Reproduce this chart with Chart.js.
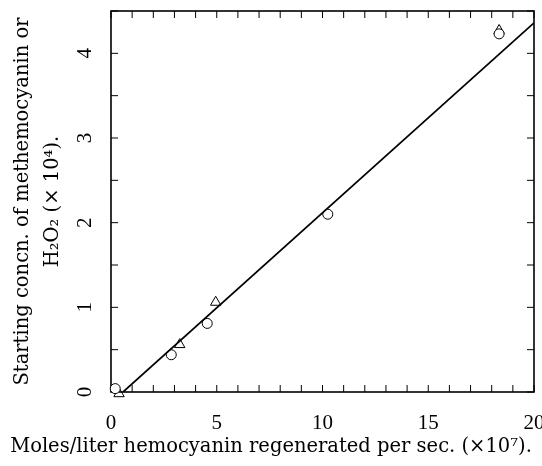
<!DOCTYPE html>
<html>
<head>
<meta charset="utf-8">
<script src="https://cdn.jsdelivr.net/npm/chart.js@4.4.1/dist/chart.umd.min.js"></script>
<style>
  html, body { margin: 0; padding: 0; background: #fff; }
  #wrap { width: 542px; height: 466px; }
</style>
</head>
<body>
<div id="wrap"><canvas id="chart"></canvas></div>
<script>
// values
const circleX = [0.2, 2.85, 4.55, 10.25, 18.35];
const circleY = [0.04, 0.44, 0.81, 2.1, 4.23];
const triangleX = [0.38, 3.25, 4.95, 18.35];
const triangleY = [-0.02, 0.56, 1.06, 4.27];
const fitX = [0.57, 20];
const fitY = [0, 4.36];
const xTickLabels = [0, 5, 10, 15, 20];
const yTickLabels = [0, 1, 2, 3, 4];

const toPoints = (xs, ys) => xs.map((v, i) => ({ x: v, y: ys[i] }));

// frame + inward ticks on all four sides
const frameTicks = {
    id: 'frameTicks',
    beforeDatasetsDraw(chart) {
        const { ctx, chartArea: a, scales: { x, y } } = chart;
        ctx.save();
        ctx.strokeStyle = '#000';
        ctx.lineWidth = 1;
        ctx.beginPath();
        x.ticks.forEach(t => {
            const px = x.getPixelForValue(t.value);
            ctx.moveTo(px, a.bottom); ctx.lineTo(px, a.bottom - 7);
            ctx.moveTo(px, a.top); ctx.lineTo(px, a.top + 7);
        });
        y.ticks.forEach(t => {
            const py = y.getPixelForValue(t.value);
            ctx.moveTo(a.left, py); ctx.lineTo(a.left + 7, py);
            ctx.moveTo(a.right, py); ctx.lineTo(a.right - 7, py);
        });
        ctx.stroke();
        ctx.lineWidth = 1.6;
        ctx.strokeRect(a.left, a.top, a.right - a.left, a.bottom - a.top);
        ctx.restore();
    }
};

const tickFont = { family: 'Liberation Serif', size: 21 };

new Chart(document.getElementById('chart'), {
    type: 'scatter',
    data: {
        datasets: [
            {
                type: 'line',
                data: toPoints(fitX, fitY),
                borderColor: '#000',
                borderWidth: 1.7,
                pointRadius: 0,
                fill: false
            },
            {
                data: toPoints(circleX, circleY),
                pointStyle: 'circle',
                pointRadius: 5,
                backgroundColor: '#fff',
                borderColor: '#000',
                borderWidth: 1,
                clip: false
            },
            {
                data: toPoints(triangleX, triangleY),
                pointStyle: 'triangle',
                pointRadius: 6,
                backgroundColor: 'rgba(255,255,255,0)',
                borderColor: '#000',
                borderWidth: 1,
                clip: false
            }
        ]
    },
    options: {
        responsive: true,
        maintainAspectRatio: false,
        animation: false,
        layout: { padding: { top: 11, right: 8, left: 8, bottom: 0 } },
        plugins: {
            legend: { display: false },
            tooltip: { enabled: false },
            // x-axis caption is wider than the plot, so it goes in the full-width title box
            title: {
                display: true,
                position: 'bottom',
                text: 'Moles/liter hemocyanin regenerated per sec. (\u00d710\u2077).',
                color: '#000',
                font: { family: 'DejaVu Serif', size: 19.5, weight: 'normal', lineHeight: 1.2 },
                padding: { top: 0, bottom: 7 }
            }
        },
        scales: {
            x: {
                type: 'linear',
                min: 0,
                max: 20,
                afterFit: s => { s.height = 43.6; s.paddingLeft = 0; s.paddingRight = 0; },
                grid: { display: true, drawOnChartArea: false, drawTicks: false },
                border: { display: false },
                ticks: {
                    stepSize: 1,
                    autoSkip: false,
                    maxRotation: 0,
                    padding: 19,
                    color: '#000',
                    font: tickFont,
                    callback: v => xTickLabels.includes(v) ? String(v) : ''
                }
            },
            y: {
                type: 'linear',
                min: 0,
                max: 4.5,
                afterFit: s => { s.width = 103; s.paddingTop = 0; s.paddingBottom = 0; },
                grid: { display: true, drawOnChartArea: false, drawTicks: false },
                border: { display: false },
                ticks: {
                    stepSize: 0.5,
                    autoSkip: false,
                    minRotation: 90,
                    maxRotation: 90,
                    crossAlign: 'center',
                    padding: 20,
                    color: '#000',
                    font: tickFont,
                    callback: v => yTickLabels.includes(v) ? String(v) : ''
                },
                title: {
                    display: true,
                    text: ['Starting concn. of methemocyanin or', 'H\u2082O\u2082 (\u00d7 10\u2074).'],
                    color: '#000',
                    font: { family: 'DejaVu Serif', size: 19.5, lineHeight: 1.55 },
                    padding: { top: 0, bottom: 0 }
                }
            }
        }
    },
    plugins: [frameTicks]
});
</script>
</body>
</html>
